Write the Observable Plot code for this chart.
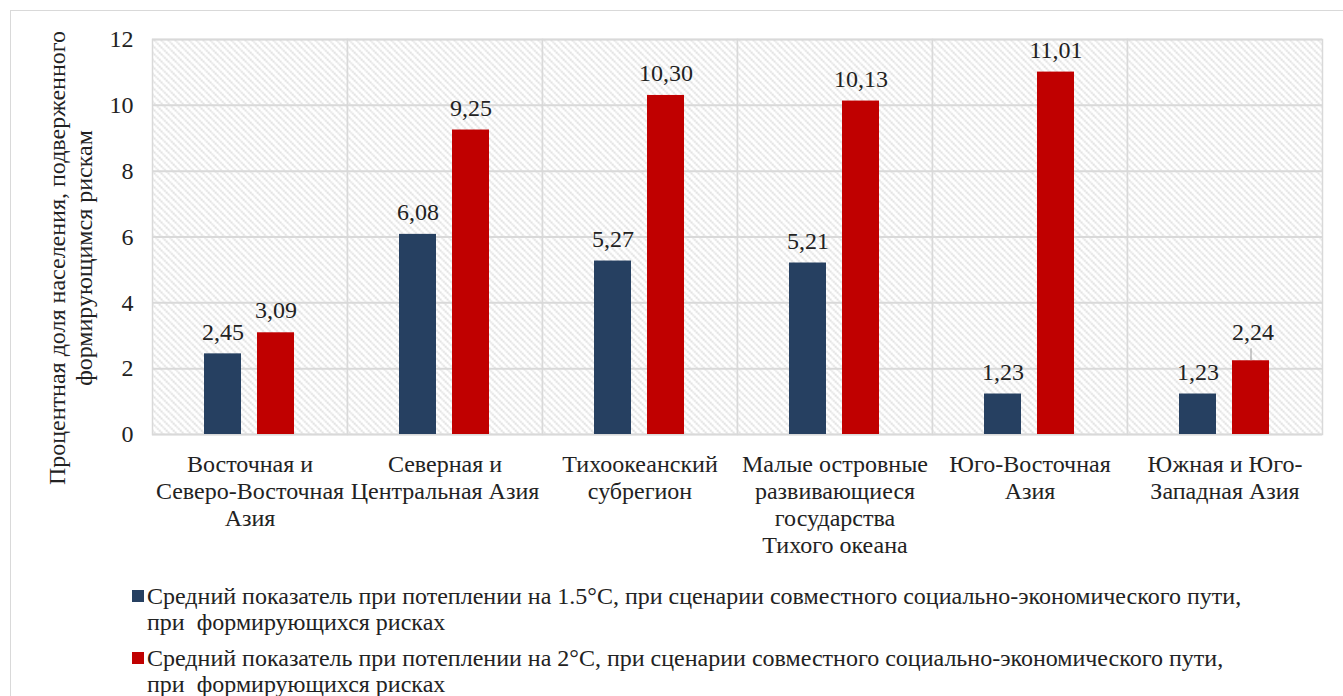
<!DOCTYPE html>
<html>
<head>
<meta charset="utf-8">
<script src="https://cdn.jsdelivr.net/npm/d3@7"></script>
<script src="https://cdn.jsdelivr.net/npm/@observablehq/plot@0.6"></script>
<style>
  html, body { margin: 0; padding: 0; background: #fff; }
  body { width: 1343px; height: 696px; position: relative; overflow: hidden; font-family: "Liberation Serif", "Times New Roman", serif; color: #222; }
  #border { position: absolute; left: 10px; top: 10px; width: 1340px; height: 700px; border: 1px solid #d9d9d9; box-sizing: border-box; }
  #chart { position: absolute; left: 0; top: 0; }
  #ylabel { position: absolute; left: 71px; top: 258px; transform: translate(-50%, -50%) rotate(-90deg); white-space: nowrap; text-align: center; font-size: 24px; line-height: 27px; color: #222; }
  #legend { position: absolute; left: 132px; top: 583px; font-size: 24px; line-height: 26px; color: #222; }
  .item { position: relative; padding-left: 15px; margin-bottom: 10px; white-space: pre; }
  .sw { position: absolute; left: 0; top: 7px; width: 12px; height: 12px; }
</style>
</head>
<body>
<div id="border"></div>
<div id="chart"></div>
<div id="ylabel">Процентная доля населения, подверженного<br>формирующимся рискам</div>
<div id="legend"></div>
<script>
const categories = [
  "Восточная и\nСеверо-Восточная\nАзия",
  "Северная и\nЦентральная Азия",
  "Тихоокеанский\nсубрегион",
  "Малые островные\nразвивающиеся\nгосударства\nТихого океана",
  "Юго-Восточная\nАзия",
  "Южная и Юго-\nЗападная Азия"
];
const seriesNames = [
  "Средний показатель при потеплении на 1.5°C, при сценарии совместного социально-экономического пути,\nпри  формирующихся рисках",
  "Средний показатель при потеплении на 2°C, при сценарии совместного социально-экономического пути,\nпри  формирующихся рисках"
];
const seriesKeys = ["1.5", "2"];
const seriesColors = ["#264061", "#C00000"];
const values15 = [2.45, 6.08, 5.27, 5.21, 1.23, 1.23];
const values2 = [3.09, 9.25, 10.30, 10.13, 11.01, 2.24];
const yTicks = [0, 2, 4, 6, 8, 10, 12];

const data = [];
categories.forEach((c, i) => {
  data.push({cat: c, s: seriesKeys[0], v: values15[i]});
  data.push({cat: c, s: seriesKeys[1], v: values2[i]});
});
const fmt = d => d.v.toFixed(2).replace(".", ",");
const isShifted = d => d.cat === categories[5] && d.s === seriesKeys[1];

const chart = Plot.plot({
  width: 1343,
  height: 570,
  marginLeft: 150,
  marginRight: 19,
  marginTop: 39,
  marginBottom: 136,
  style: {fontFamily: "'Liberation Serif', 'Times New Roman', serif", fontSize: "24px", color: "#222", background: "transparent"},
  fx: {domain: categories, padding: 0, label: null},
  x: {domain: seriesKeys, paddingInner: 0.3, paddingOuter: 0.96, axis: null},
  y: {domain: [0, 12], label: null},
  color: {domain: seriesKeys, range: seriesColors},
  marks: [
    Plot.frame({fill: "url(#hatch)", stroke: "#d9d9d9", strokeWidth: 1.5}),
    Plot.gridY(yTicks, {stroke: "#d9d9d9", strokeOpacity: 1, strokeWidth: 2}),
    Plot.axisY(yTicks, {tickSize: 0, tickPadding: 19, fontSize: 24, fill: "#222", label: null}),
    Plot.axisFx({anchor: "bottom", tickSize: 0, tickPadding: 18, fontSize: 24, lineHeight: 1.125, fill: "#222", label: null, tickFormat: d => d}),
    Plot.barY(data, {fx: "cat", x: "s", y: "v", fill: "s"}),
    Plot.text(data.filter(d => !isShifted(d)), {fx: "cat", x: "s", y: "v", text: fmt, dy: -22, fontSize: 24, fill: "#222"}),
    Plot.text(data.filter(isShifted), {fx: "cat", x: "s", y: "v", text: fmt, dy: -28, dx: 2, fontSize: 24, fill: "#222"}),
    Plot.ruleX(data.filter(isShifted), {fx: "cat", x: "s", y1: "v", y2: "v", insetTop: -12, stroke: "#999", strokeWidth: 1})
  ]
});

// hatch pattern definition
const ns = "http://www.w3.org/2000/svg";
const defs = document.createElementNS(ns, "defs");
defs.innerHTML = `<pattern id="hatch" patternUnits="userSpaceOnUse" width="7" height="7">
  <rect width="7" height="7" fill="#ffffff"></rect>
  <path d="M-1,-1 L8,8 M-1,6 L1,8 M6,-1 L8,1" stroke="#d3d3d3" stroke-width="1.7" stroke-dasharray="1.6,1"></path>
</pattern>`;
chart.insertBefore(defs, chart.firstChild);
document.getElementById("chart").appendChild(chart);

const legend = document.getElementById("legend");
seriesNames.forEach((name, i) => {
  const item = document.createElement("div");
  item.className = "item";
  const sw = document.createElement("span");
  sw.className = "sw";
  sw.style.background = seriesColors[i];
  item.appendChild(sw);
  item.appendChild(document.createTextNode(name));
  legend.appendChild(item);
});
</script>
</body>
</html>
